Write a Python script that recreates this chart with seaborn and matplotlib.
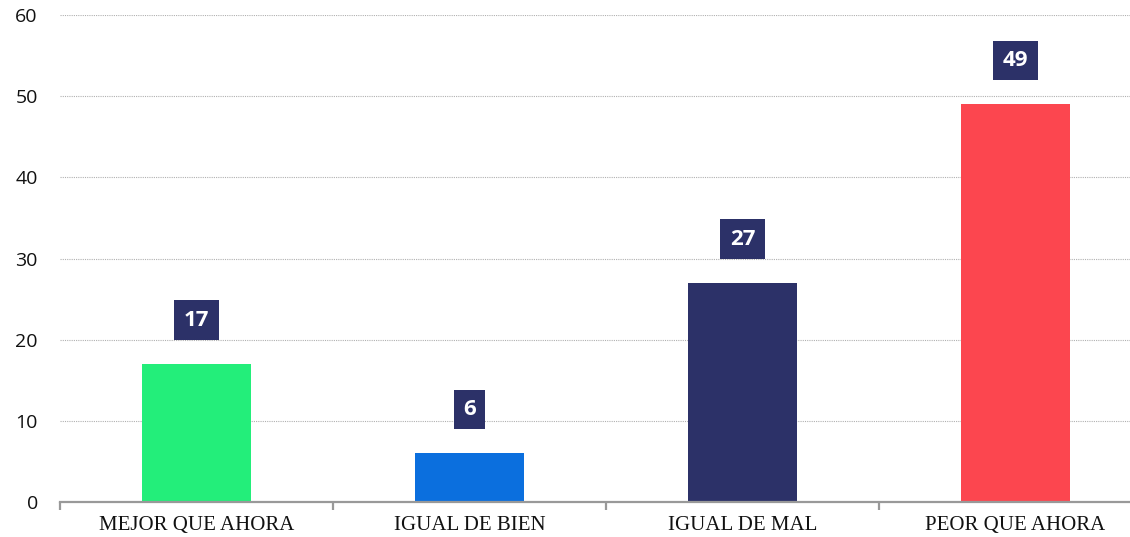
import numpy as np
import pandas as pd
import seaborn as sns
import matplotlib.pyplot as plt
from matplotlib.ticker import FixedLocator

# data
categorias = ['MEJOR QUE AHORA', 'IGUAL DE BIEN', 'IGUAL DE MAL', 'PEOR QUE AHORA']
valores = [17, 6, 27, 49]
colores = ['#23ee7a', '#0b6fde', '#2c3168', '#fc464f']

df = pd.DataFrame({'cat': categorias, 'val': valores})

sns.set_style('white')
plt.rcParams['font.family'] = ['Open Sans', 'DejaVu Sans']

fig = plt.figure(figsize=(11.3, 5.37), dpi=100)
ax = fig.add_axes([60 / 1130, 35 / 537, 1092 / 1130, 487 / 537])

sns.barplot(data=df, x='cat', y='val', hue='cat', palette=colores,
            width=0.4, saturation=1, legend=False, linewidth=0, ax=ax)

ax.set_xlim(-0.5, 3.5)
ax.set_ylim(0, 60)
ax.set_yticks(range(0, 61, 10))
ax.yaxis.grid(True, linestyle=(0, (1, 1)), color='#b0b0b0', linewidth=0.8)
ax.set_axisbelow(True)

for s in ['top', 'right', 'left']:
    ax.spines[s].set_visible(False)
ax.spines['bottom'].set_color('#999999')
ax.spines['bottom'].set_linewidth(1.6)

ax.set_xlabel('')
ax.set_ylabel('')
ax.tick_params(axis='y', length=0, labelsize=14, pad=16, labelcolor='#111111')
ax.tick_params(axis='x', which='major', length=0, pad=10, labelcolor='#111111')
ax.xaxis.set_minor_locator(FixedLocator([-0.5, 0.5, 1.5, 2.5]))
ax.tick_params(axis='x', which='minor', bottom=True, direction='out',
               length=6, width=1.6, color='#999999')
for lab in ax.get_xticklabels():
    lab.set_family(['Liberation Serif', 'DejaVu Serif'])
    lab.set_fontsize(15)

# value boxes
for i, v in enumerate(valores):
    ax.text(i, v + 5.4, str(v), ha='center', va='center', fontsize=16,
            fontweight='bold', color='white',
            bbox=dict(boxstyle='square,pad=0.42', facecolor='#2c3168', edgecolor='none'))

fig.savefig('out.png', dpi=100)
